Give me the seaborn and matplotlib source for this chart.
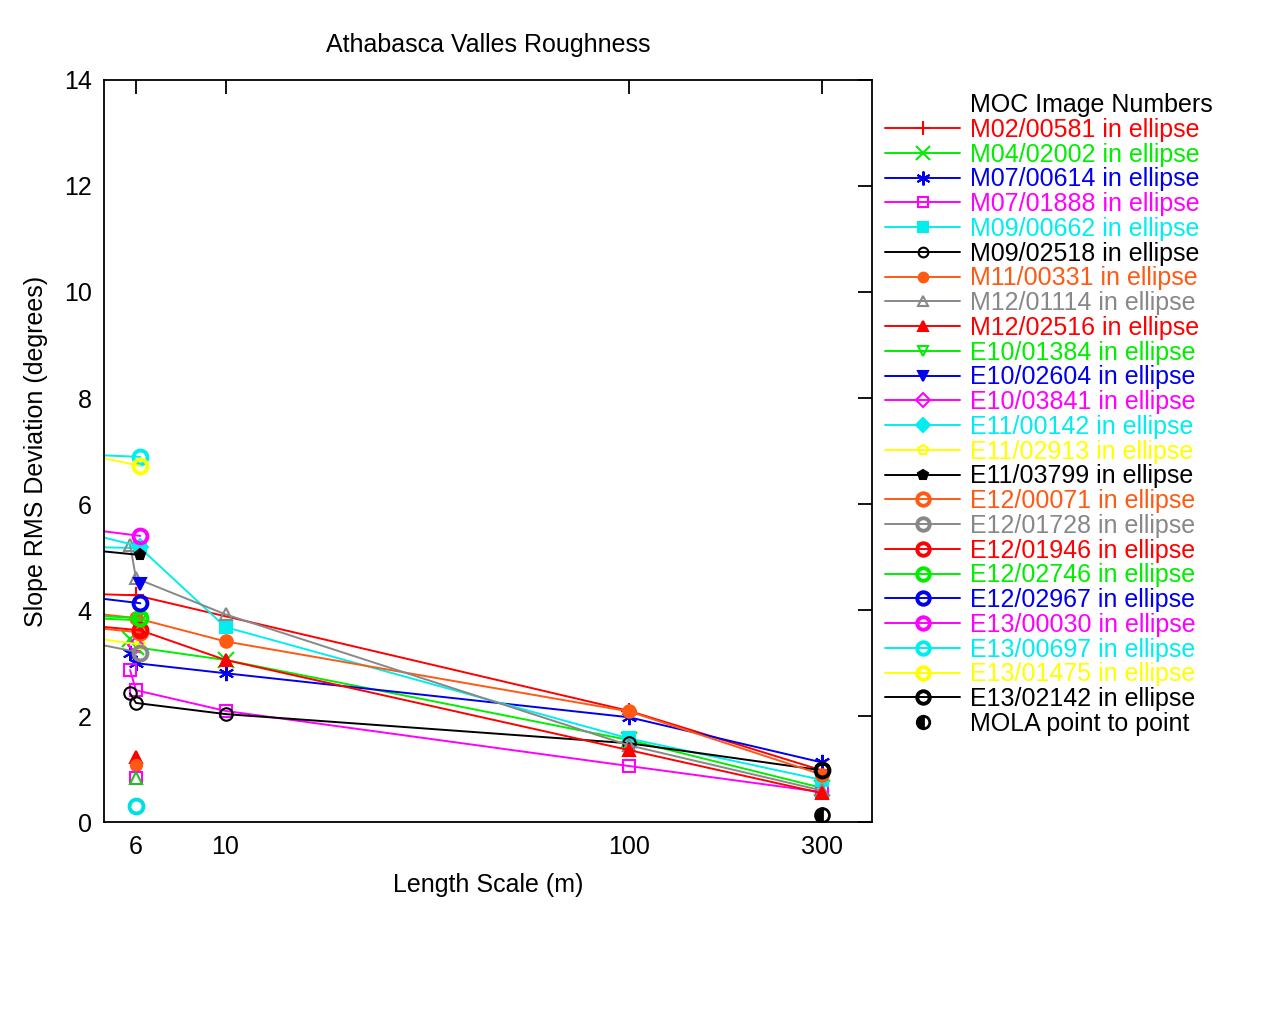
"""
Athabasca Valles roughness: slope RMS deviation vs length scale
"""

import matplotlib
matplotlib.use("Agg")
import matplotlib.pyplot as plt
import matplotlib.ticker as mticker
from matplotlib.lines import Line2D
import seaborn as sns

# Series (x = length scale in m, y = slope RMS in degrees)
labels = [
    "M02/00581 in ellipse", "M04/02002 in ellipse", "M07/00614 in ellipse",
    "M07/01888 in ellipse", "M09/00662 in ellipse", "M09/02518 in ellipse",
    "M11/00331 in ellipse", "M12/01114 in ellipse", "M12/02516 in ellipse",
    "E10/01384 in ellipse", "E10/02604 in ellipse", "E10/03841 in ellipse",
    "E11/00142 in ellipse", "E11/02913 in ellipse", "E11/03799 in ellipse",
    "E12/00071 in ellipse", "E12/01728 in ellipse", "E12/01946 in ellipse",
    "E12/02746 in ellipse", "E12/02967 in ellipse", "E13/00030 in ellipse",
    "E13/00697 in ellipse", "E13/01475 in ellipse", "E13/02142 in ellipse",
]
series_x = [
    [4, 6, 100, 300],
    [5.8, 6, 10, 100, 300],
    [5.8, 6, 10, 100, 300],
    [5.8, 6, 10, 100, 300],
    [4, 6.15, 10, 100, 300],
    [5.8, 6, 10, 100, 300],
    [4, 6, 10, 100, 300],
    [5.8, 6, 10, 100, 300],
    [6.15, 10, 100, 300],
    [4, 6.15],
    [6.15],
    [6.0],
    [4, 6.15],
    [4, 6.15],
    [4, 6.15],
    [4, 6.15],
    [4, 6.15],
    [4, 6.15],
    [4, 6.15],
    [4, 6.15],
    [4, 6.15],
    [4, 6.15],
    [4, 6.15],
    [300],
]
series_y = [
    [4.32, 4.28, 2.1, 0.98],
    [3.45, 3.3, 3.06, 1.55, 0.65],
    [3.2, 3.0, 2.81, 1.98, 1.13],
    [2.87, 2.49, 2.1, 1.06, 0.57],
    [5.2, 5.17, 3.68, 1.58, 0.8],
    [2.43, 2.25, 2.04, 1.49, 0.98],
    [4.0, 3.85, 3.41, 2.09, 0.9],
    [5.23, 4.6, 3.92, 1.45, 0.6],
    [3.62, 3.06, 1.36, 0.55],
    [3.87, 3.81],
    [4.5],
    [3.34],
    [5.55, 5.2],
    [3.55, 3.35],
    [5.18, 5.04],
    [3.72, 3.58],
    [3.48, 3.2],
    [3.75, 3.62],
    [3.92, 3.85],
    [4.3, 4.13],
    [5.58, 5.4],
    [6.95, 6.89],
    [7.02, 6.72],
    [0.98],
]

# Unconnected points near 6 m
lone_x = [6, 6, 6, 6, 6]
lone_y = [1.23, 1.08, 0.83, 0.83, 0.3]
lone_colors = ["#ff0000", "#ff5a14", "#ff00ff", "#20c020", "#00e0e0"]
lone_markers = ["^", "o", "s", "^", "o"]
lone_filled = [True, True, False, False, False]

# MOLA point to point
mola_x = [300]
mola_y = [0.13]

RED, GREEN, BLUE, MAGENTA = "#ff0000", "#00ee00", "#0000ee", "#ff00ff"
CYAN, YELLOW, BLACK, ORANGE, GRAY = "#00eeee", "#ffff00", "#000000", "#ff5a14", "#888888"
colors = [RED, GREEN, BLUE, MAGENTA, CYAN, BLACK, ORANGE, GRAY, RED,
          GREEN, BLUE, MAGENTA, CYAN, YELLOW, BLACK, ORANGE, GRAY, RED,
          GREEN, BLUE, MAGENTA, CYAN, YELLOW, BLACK]
ASTER = (6, 2, 0)
markers = ["+", "x", ASTER, "s", "s", "o", "o", "^", "^",
           "v", "v", "D", "D", "p", "p", "o", "o", "o",
           "o", "o", "o", "o", "o", "o"]
filled = [False, False, False, False, True, False, True, False, True,
          False, True, False, True, False, True, False, False, False,
          False, False, False, False, False, False]


def msize(i, legend=False):
    if i >= 15:
        return 9 if legend else 10
    if markers[i] in ("+", "x") or markers[i] == ASTER:
        return 10 if legend else 11
    if legend:
        return 7
    return 9 if markers[i] == "o" else 8


sns.set_style("white")
plt.rcParams["font.family"] = ["Liberation Sans", "DejaVu Sans"]
for key in ("text.color", "axes.labelcolor", "xtick.color", "ytick.color"):
    plt.rcParams[key] = "black"
FS = 18

fig = plt.figure(figsize=(12.8, 10.24), dpi=100)
ax = fig.add_axes([0.0813, 0.197, 0.6, 0.725])

for i, lab in enumerate(labels):
    big_circle = i >= 15
    sns.lineplot(
        x=series_x[i], y=series_y[i], ax=ax, color=colors[i],
        marker=markers[i], markersize=msize(i),
        markerfacecolor=colors[i] if filled[i] else "none",
        markeredgecolor=colors[i], markeredgewidth=2.8 if big_circle else 1.5,
        linewidth=1.4, sort=False, legend=False,
    )

for x, y, c, m, f in zip(lone_x, lone_y, lone_colors, lone_markers, lone_filled):
    ax.plot([x], [y], linestyle="none", marker=m, color=c,
            markersize=8 if m != "o" or f else 10,
            markerfacecolor=c if f else "none",
            markeredgewidth=1.5 if f or m != "o" else 2.8)

ax.plot(mola_x, mola_y, linestyle="none", marker="o", color="black",
        fillstyle="left", markersize=10, markerfacecolor="black",
        markerfacecoloralt="white", markeredgewidth=2)

ax.set_xscale("log")
ax.set_xlim(5, 400)
ax.set_ylim(0, 14)
ax.xaxis.set_major_locator(mticker.FixedLocator([6, 10, 100, 300]))
ax.xaxis.set_major_formatter(mticker.FixedFormatter(["6", "10", "100", "300"]))
ax.xaxis.set_minor_locator(mticker.NullLocator())
ax.set_yticks(range(0, 15, 2))
ax.tick_params(axis="both", which="major", direction="in", length=10, width=1.3,
               top=True, right=True, labelsize=FS, pad=9)
for sp in ax.spines.values():
    sp.set_color("black")
    sp.set_linewidth(1.3)

ax.set_title("Athabasca Valles Roughness", fontsize=FS, pad=20)
ax.set_xlabel("Length Scale (m)", fontsize=FS, labelpad=10)
ax.set_ylabel("Slope RMS Deviation (degrees)", fontsize=FS, labelpad=11)

# Legend built by hand so the text takes the series colour
handles = [Line2D([], [], linestyle="none")]
for i in range(len(labels)):
    big_circle = i >= 15
    handles.append(Line2D([], [], color=colors[i], linewidth=1.4, marker=markers[i],
                          markersize=msize(i, legend=True),
                          markerfacecolor=colors[i] if filled[i] else "none",
                          markeredgecolor=colors[i],
                          markeredgewidth=2.8 if big_circle else 1.5))
handles.append(Line2D([], [], linestyle="none", marker="o", color="black", fillstyle="left",
                      markersize=9, markerfacecolor="black", markerfacecoloralt="white",
                      markeredgewidth=2))
leg_labels = ["MOC Image Numbers"] + labels + ["MOLA point to point"]
leg_colors = ["black"] + colors + ["black"]
leg = fig.legend(handles, leg_labels, loc="upper left", bbox_to_anchor=(0.6915, 0.909),
                 frameon=False, fontsize=FS, handlelength=3.0, handletextpad=0.4,
                 labelspacing=0.03, borderpad=0, borderaxespad=0)
for txt, c in zip(leg.get_texts(), leg_colors):
    txt.set_color(c)

fig.savefig("out.png", dpi=100)
